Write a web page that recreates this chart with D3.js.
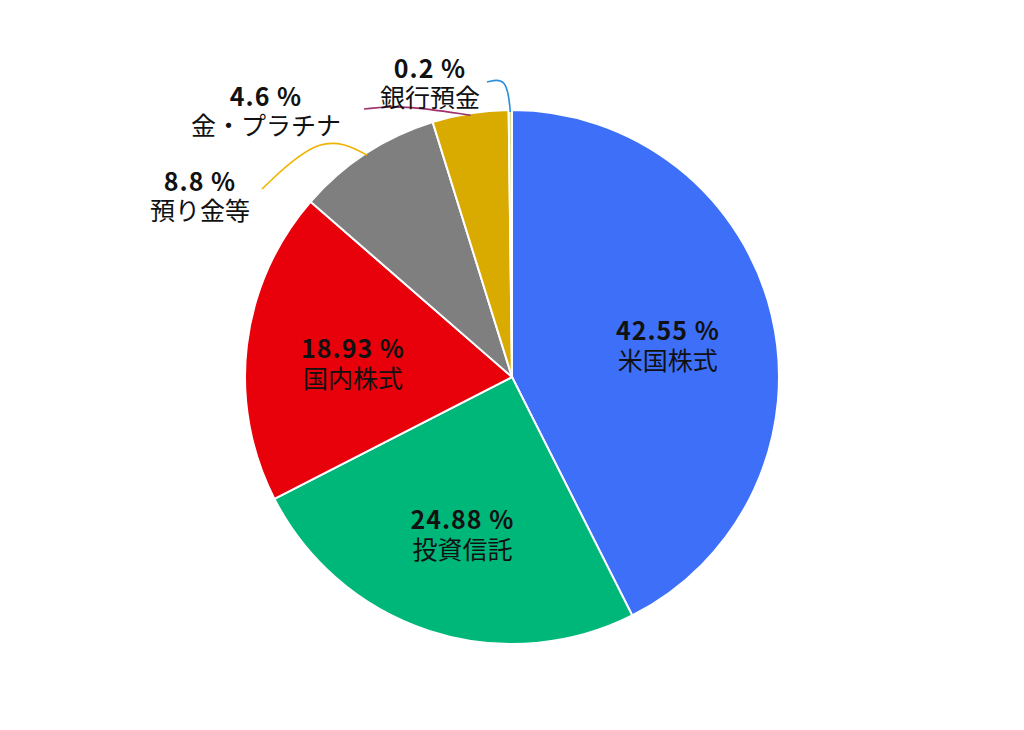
<!DOCTYPE html>
<html><head><meta charset="utf-8">
<script src="https://cdn.jsdelivr.net/npm/d3@7"></script>
<style>body{margin:0;background:#fff}text{font-family:"Noto Sans CJK JP","Noto Sans",sans-serif}</style>
</head><body><svg id="c" width="1024" height="730"></svg>
<script>
const categories = ["米国株式", "投資信託", "国内株式", "預り金等", "金・プラチナ", "銀行預金"];
const values = [42.55, 24.88, 18.93, 8.8, 4.6, 0.2];
const valueLabels = ["42.55 %", "24.88 %", "18.93 %", "8.8 %", "4.6 %", "0.2 %"];
const colors = ["#3d6ff8", "#00b77a", "#e8000b", "#7f7f7f", "#d9aa00", "#d8e08a"];
const leaderColors = [null, null, null, "#f0b400", "#a0306a", "#2d8fd8"];

const svg = d3.select("#c");
const cx = 512, cy = 377, r = 267;
const g = svg.append("g").attr("transform", `translate(${cx},${cy})`);
const pie = d3.pie().sort(null).value(d => d);
const arcs = pie(values);
const arc = d3.arc().innerRadius(0).outerRadius(r);

g.selectAll("path.slice").data(arcs).enter().append("path")
  .attr("class", "slice").attr("d", arc)
  .attr("fill", (d, i) => colors[i]).attr("stroke", "#fff").attr("stroke-width", 2);

// inside labels
const inner = d3.arc().innerRadius(r * 0.6).outerRadius(r * 0.6);
[0, 1, 2].forEach(i => {
  const [x, y] = inner.centroid(arcs[i]);
  const t = g.append("text").attr("text-anchor", "middle").attr("font-size", 25).attr("fill", "#111");
  t.append("tspan").attr("x", x).attr("y", y).attr("font-weight", "bold").attr("letter-spacing", 1).text(valueLabels[i]);
  t.append("tspan").attr("x", x).attr("y", y + 30).text(categories[i]);
});

// outside labels with curved leaders
const outsideLabels = [
  { i: 3, x: -312, y: -186, end: [-250, -188], mid: [-190, -245] },
  { i: 4, x: -246, y: -271, end: [-148, -268], mid: [-110, -272] },
  { i: 5, x: -82, y: -299, end: [-25, -295], mid: [-5, -300] }
];
const line = d3.line().curve(d3.curveBasis);
outsideLabels.forEach(o => {
  const a = arcs[o.i];
  const ang = (a.startAngle + a.endAngle) / 2;
  const s = [Math.sin(ang) * (r - 2), -Math.cos(ang) * (r - 2)];
  g.append("path").attr("d", line([s, o.mid, o.end])).attr("fill", "none")
    .attr("stroke", leaderColors[o.i]).attr("stroke-width", 1.6);
  const t = g.append("text").attr("text-anchor", "middle").attr("font-size", 25).attr("fill", "#111");
  t.append("tspan").attr("x", o.x).attr("y", o.y).attr("font-weight", "bold").attr("letter-spacing", 1).text(valueLabels[o.i]);
  t.append("tspan").attr("x", o.x).attr("y", o.y + 29).text(categories[o.i]);
});
</script></body></html>
